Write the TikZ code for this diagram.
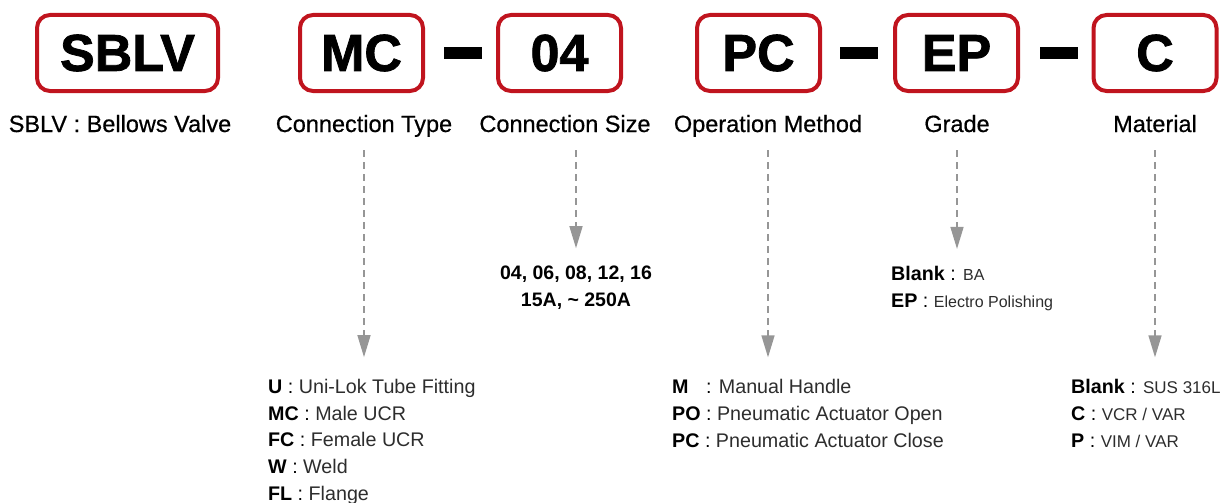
\documentclass[tikz,border=0pt]{standalone}
\usepackage{fontspec}
\setmainfont{Liberation Sans}
\newfontfamily\heavyfont[FakeBold=1.5]{Liberation Sans Bold}
\newfontfamily\medfont[FakeBold=0.6]{Liberation Sans}
\usetikzlibrary{arrows.meta,positioning}
\definecolor{codered}{RGB}{192,20,30}
\definecolor{pointgray}{RGB}{150,150,150}
\definecolor{desctext}{RGB}{45,45,45}
\newcommand{\entry}[2]{\textbf{#1} : {\color{desctext}#2}}

\begin{document}
\begin{tikzpicture}[x=1pt,y=-1pt,
  codebox/.style={draw=codered, line width=4pt, rounded corners=13pt, minimum width=123pt, minimum height=76pt, inner sep=0pt, font=\heavyfont\fontsize{52}{52}\selectfont},
  dashbar/.style={fill=black, minimum width=38pt, minimum height=12pt, inner sep=0pt},
  lbl/.style={anchor=base, inner sep=0pt, text depth=5pt, font=\medfont\fontsize{23.5}{26}\selectfont},
  choices/.style={anchor=base west, align=left, inner sep=0pt, font=\fontsize{19.7}{26.6}\selectfont},
  pointer/.style={pointgray, line width=1.5pt, dash pattern=on 7pt off 5pt, -{Triangle[width=13pt,length=22pt]}}
]
\useasboundingbox (0,0) rectangle (1226,503);

% code boxes
\node[codebox, minimum width=181pt] (sblv) at (127.5,53) {SBLV};
\node[codebox] (mc) at (361.5,53) {MC};
\node[dashbar] (dash1) at (463,53.5) {};
\node[codebox] (size) at (559.5,53) {04};
\node[codebox] (op) at (758.5,53) {PC};
\node[dashbar] (dash2) at (859,53.5) {};
\node[codebox] (grade) at (956.5,53) {EP};
\node[dashbar] (dash3) at (1059,53.5) {};
\node[codebox] (mat) at (1155,53) {C};

% labels
\node[lbl] (sblvlbl) at (120,132) {SBLV : Bellows Valve};
\node[lbl] (typelbl) at (364,132) {Connection Type};
\node[lbl] (sizelbl) at (565,132) {Connection Size};
\node[lbl] (oplbl) at (768,132) {Operation Method};
\node[lbl] (gradelbl) at (957,132) {Grade};
\node[lbl] (matlbl) at (1155,132) {Material};

% option lists (anchored on the last line)
\node[choices] (typelist) at (268,500) {\entry{U}{Uni-Lok Tube Fitting}\\
  \entry{MC}{Male UCR}\\
  \entry{FC}{Female UCR}\\
  \entry{W}{Weld}\\
  \entry{FL}{Flange}};
\node[choices, anchor=base, align=center, font=\bfseries\fontsize{19.5}{27}\selectfont] (sizelist) at (576,306) {04, 06, 08, 12, 16\\15A, \textasciitilde{} 250A};
\node[choices] (oplist) at (672,447) {\entry{\rlap{M}\hphantom{PO}}{Manual Handle}\\
  \entry{PO}{Pneumatic Actuator Open}\\
  \entry{PC}{Pneumatic Actuator Close}};
\node[choices] (gradelist) at (891,307) {\entry{Blank}{\fontsize{16}{26.6}\selectfont BA}\\
  \entry{EP}{\fontsize{16}{26.6}\selectfont Electro Polishing}};
\node[choices] (matlist) at (1071,447) {\entry{Blank}{\fontsize{17}{26.6}\selectfont SUS 316L}\\
  \entry{C}{\fontsize{17}{26.6}\selectfont VCR / VAR}\\
  \entry{P}{\fontsize{17}{26.6}\selectfont VIM / VAR}};

% pointers
\draw[pointer, shorten <=13pt, shorten >=22pt] (typelbl.south) -- (typelbl.south |- typelist.north);
\draw[pointer, shorten <=13pt, shorten >=17pt] (sizelist.north |- sizelbl.south) -- (sizelist.north);
\draw[pointer, shorten <=13pt, shorten >=22pt] (oplbl.south) -- (oplbl.south |- oplist.north);
\draw[pointer, shorten <=13pt, shorten >=17pt] (gradelbl.south) -- (gradelbl.south |- gradelist.north);
\draw[pointer, shorten <=13pt, shorten >=22pt] (matlbl.south) -- (matlbl.south |- matlist.north);
\end{tikzpicture}
\end{document}
